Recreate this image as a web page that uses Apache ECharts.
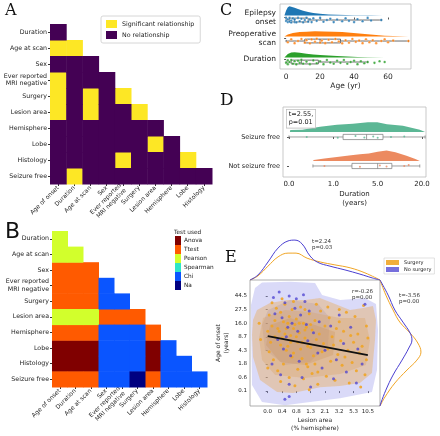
<!DOCTYPE html>
<html><head><meta charset="utf-8">
<script src="https://cdn.jsdelivr.net/npm/echarts@6/dist/echarts.min.js"></script>
<style>html,body{margin:0;padding:0;background:#fff}#c{width:440px;height:436px}</style>
</head><body><div id="c"></div>
<script>
// ---------------- DATA ----------------
// Panel A / B heatmaps
const heatCols = ['Age of onset','Duration','Age at scan','Sex','Ever reported\nMRI negative','Surgery','Lesion area','Hemisphere','Lobe','Histology'];
const heatRows = ['Duration','Age at scan','Sex','Ever reported\nMRI negative','Surgery','Lesion area','Hemisphere','Lobe','Histology','Seizure free'];
const sigNames = ['Significant relationship','No relationship'];
const sigMatrix = [
  [0],[1,1],[0,0,0],[1,0,0,0],[1,0,1,0,1],[1,0,1,0,0,1],
  [0,0,0,0,0,0,0],[0,0,0,0,0,0,1,0],[0,0,0,0,1,0,0,0,1],[0,1,0,0,0,0,0,0,0,0]
];
const testNames = ['Anova','Ttest','Pearson','Spearman','Chi','Na'];
const testCodes = {A:'Anova',T:'Ttest',P:'Pearson',S:'Spearman',C:'Chi',N:'Na'};
const testMatrix = ['P','PP','TTT','TTTC','TTTCC','PPPTTT','TTTCCCT','AAACCCAC','AAACCCACC','TTTCCNTCCC'];

// Panel C raincloud (age in years)
const cGroups = ['Epilepsy\nonset','Preoperative\nscan','Duration'];
const cTicks = [0,20,40,60];
const cBoxes = [[0,2,5,13,56],[0,11,20,32,72],[0,3,9,19,48]];
const cDensOnset = [[-1,0],[0,0.55],[1,0.9],[2,1],[3,0.97],[5,0.85],[7,0.7],[10,0.52],[13,0.38],[16,0.28],[20,0.18],[25,0.11],[30,0.07],[40,0.03],[50,0.015],[57,0]];
const cDensScan = [[-1,0],[1,0.4],[4,0.7],[8,0.85],[12,0.9],[17,1],[22,0.95],[28,0.9],[33,0.85],[38,0.75],[43,0.6],[48,0.45],[53,0.3],[58,0.15],[63,0.07],[72,0]];
const cDensDur = [[-1,0],[1,0.7],[3,0.95],[5,1],[8,0.9],[12,0.75],[16,0.6],[20,0.5],[25,0.38],[30,0.28],[36,0.18],[42,0.1],[48,0.05],[58,0]];
const cPtsOnset = [[0,0.05],[0,-0.1],[1,0.1],[1,-0.04],[2,0.08],[2,-0.1],[3,0.02],[3,0.12],[4,-0.08],[5,0.1],[5,-0.02],[6,0.11],[7,-0.1],[8,0.06],[9,-0.06],[10,0.11],[11,0],[12,-0.11],[13,0.08],[14,-0.04],[15,0.1],[16,-0.08],[18,0.04],[20,-0.1],[22,0.08],[24,0],[26,-0.06],[28,0.1],[30,-0.02],[33,0.06],[35,-0.08],[37,0.04],[40,0.1],[42,-0.04],[45,0.06],[48,-0.1],[50,0.02],[56,0]];
const cPtsScan = [[1,0.06],[3,-0.08],[5,0.1],[7,0],[9,-0.1],[11,0.08],[12,-0.04],[14,0.11],[15,-0.08],[17,0.04],[18,-0.11],[20,0.08],[21,-0.02],[23,0.1],[25,-0.06],[27,0.06],[29,-0.1],[31,0.02],[33,0.11],[35,-0.04],[37,0.08],[39,-0.1],[41,0.04],[43,-0.02],[45,0.1],[47,-0.08],[49,0.06],[51,-0.04],[53,0.1],[56,0],[58,-0.08],[60,0.06],[63,-0.02],[72,0]];
const cPtsDur = [[0,0.04],[1,-0.08],[1,0.1],[2,0],[3,-0.1],[4,0.08],[5,-0.04],[6,0.11],[7,-0.06],[8,0.04],[9,-0.11],[10,0.08],[12,-0.02],[14,0.1],[16,-0.08],[18,0.06],[20,-0.04],[22,0.1],[24,-0.1],[26,0.02],[28,0.08],[30,-0.06],[32,0.04],[34,-0.1],[36,0.08],[38,0],[40,-0.06],[42,0.1],[44,-0.04],[46,0.06],[48,0],[52,0.04],[55,-0.04],[58,0]];

// Panel D (duration, evenly spaced display ticks)
const dTickLabels = ['0.0','1.0','5.0','20.0'];
const dTickPos = [0,1,2,3];
const dGroups = ['Seizure free','Not seizure free'];
const dDensSF = [[0.02,0],[0.03,0.2],[0.3,0.22],[0.7,0.5],[1.08,0.7],[1.44,0.8],[1.78,0.95],[1.99,0.93],[2.21,0.75],[2.57,0.6],[2.95,0.22],[3.07,0]];
const dDensNSF = [[0.54,0],[0.56,0.1],[0.8,0.25],[1.08,0.4],[1.4,0.55],[1.6,0.65],[1.8,0.72],[2.0,0.9],[2.2,1.0],[2.4,0.85],[2.65,0.5],[2.85,0.2],[2.95,0]];
const dBoxes = [[0,1.22,1.75,2.12,3.07],[0.54,1.42,2.0,2.32,2.95]];
const dPtsSF = [[0.4,0],[1.1,0.03],[1.5,-0.03],[1.7,0.02],[1.9,-0.02],[2.0,0.03],[2.3,0],[2.6,-0.02]];
const dPtsNSF = [[0.8,0],[1.6,0.03],[2.05,-0.02],[2.2,0.02],[2.6,0],[2.7,-0.03]];

// Panel E joint plot (evenly spaced display ticks)
const eXTicks = ['0.0','0.4','0.8','1.3','2.1','3.2','5.3','10.5'];
const eYTicks = ['0.1','0.6','1.8','4.3','8.7','16.0','27.5','44.5'];
const eSurgery = [[0.1,5.6],[0.3,4.8],[0.5,5.2],[0.6,6.1],[0.8,4.4],[0.9,5.8],[1.0,3.9],[1.1,5.1],[1.2,6.4],[1.3,4.6],[1.4,3.3],[1.5,5.5],[1.6,4.1],[1.7,6.0],[1.8,2.8],[1.9,4.9],[2.0,5.3],[2.1,3.6],[2.2,4.3],[2.3,6.2],[2.4,2.4],[2.5,5.0],[2.6,3.9],[2.7,4.7],[2.8,1.8],[2.9,5.7],[3.0,3.2],[3.1,4.5],[3.2,2.6],[3.3,5.2],[3.4,3.8],[3.5,1.4],[3.6,4.2],[3.7,5.9],[3.8,2.9],[3.9,3.5],[4.0,4.8],[4.1,1.1],[4.2,3.1],[4.3,5.4],[4.4,2.2],[4.5,4.0],[4.6,3.4],[4.7,0.8],[4.8,4.6],[4.9,2.7],[5.0,5.1],[5.1,3.7],[5.2,1.9],[5.3,4.4],[5.4,2.5],[5.5,5.8],[5.6,3.0],[5.7,0.6],[5.8,4.1],[5.9,2.1],[6.0,3.6],[6.1,5.5],[6.2,1.5],[6.3,4.2],[6.4,2.8],[6.5,0.3],[6.6,3.3],[6.7,6.3],[6.8,1.2],[0.2,3.6],[0.4,2.3],[0.7,1.5],[0.9,0.7],[1.1,2.0],[1.3,3.0],[1.5,1.0],[1.7,2.5],[1.9,0.4],[2.1,1.6],[2.3,3.1],[2.5,0.9],[2.7,2.0],[2.9,0.1],[3.1,1.3],[3.3,2.0],[3.5,0.5],[0.5,4.0],[0.7,4.6],[0.9,3.4],[1.2,4.2],[1.4,5.0],[1.6,3.6],[1.8,4.6],[2.0,4.0],[2.2,5.0],[2.4,3.6],[2.6,4.5],[2.8,3.3],[3.0,4.9],[0.3,6.5],[1.0,6.8],[1.8,6.6],[2.6,6.0],[3.4,6.4],[4.2,6.2],[5.0,6.0],[6.9,4.8],[7.0,3.9],[6.9,2.3],[0.0,4.4],[0.1,2.9],[0.0,1.7],[-0.5,3.8],[-0.6,5.0]];
const eNoSurgery = [[0.8,7.3],[1.5,7.0],[2.0,6.8],[2.5,7.1],[1.2,6.5],[1.9,6.1],[2.6,6.6],[0.4,6.9],[1.0,5.4],[1.4,4.7],[1.7,5.0],[2.1,4.4],[2.3,5.6],[0.7,3.8],[1.1,3.1],[1.6,2.6],[2.2,2.2],[2.8,3.7],[3.2,4.3],[3.6,5.1],[4.0,3.0],[4.4,4.8],[4.8,2.3],[5.3,3.5],[5.8,4.7],[6.3,3.1],[6.8,6.4],[0.3,2.0],[0.9,1.2],[1.5,0.5],[2.4,1.0],[3.0,0.3],[3.8,1.7],[4.6,0.9],[5.5,1.4],[6.2,0.6],[1.2,-0.6],[1.5,-0.4],[2.9,5.9],[3.5,2.8],[0.5,5.7],[1.3,4.0],[2.7,4.9],[5.0,5.6],[6.6,2.0]];
const eFitLine = [[0,4.05],[7,2.65]];
const eKdeBlueOuter = [[-0.4,8.0],[1.56,8.05],[3.31,7.96],[3.8,7.07],[5.06,6.71],[6.8,6.85],[7.57,6.41],[7.71,4.5],[7.64,1.55],[7.29,-0.07],[5.06,-0.52],[2.96,-0.81],[1.21,-1.05],[-0.4,-0.81],[-1.1,0.44],[-1.15,3.76],[-1.17,6.34],[-0.89,7.59]];
const eKdeBlueInner = [[0.02,5.97],[1.56,6.71],[3.52,6.41],[4.36,5.38],[4.22,3.39],[2.96,2.14],[1.21,1.92],[-0.19,3.02],[-0.4,4.86]];
const eKdeOrangeOuter = [[-0.75,5.97],[0.16,6.48],[1.35,6.71],[2.61,6.71],[3.66,6.85],[4.71,6.41],[5.76,5.97],[6.66,6.12],[7.36,6.26],[7.57,5.23],[7.5,3.76],[7.29,1.33],[6.45,0.59],[5.06,0.37],[3.66,0.29],[1.77,-0.15],[0.65,-0.07],[-0.54,0.81],[-1.03,2.51],[-1.1,4.13],[-1.03,5.23]];
const eKdeOrangeMid = [[-0.33,5.38],[1.21,5.97],[2.96,5.82],[5.06,5.38],[6.8,5.38],[7.15,3.76],[6.87,1.92],[5.06,1.25],[2.61,0.96],[0.51,1.18],[-0.4,2.28],[-0.61,3.91]];
const eKdeOrangeInner = [[0.16,4.86],[1.56,5.38],[3.31,4.86],[4.71,4.35],[4.57,2.65],[2.61,1.92],[0.86,2.14],[-0.12,3.39]];
const eTopBlue = [[-1.24,0],[-0.68,0.12],[0.02,0.43],[0.72,0.76],[1.42,0.93],[1.9,0.95],[2.4,0.86],[2.96,0.57],[3.5,0.42],[4.35,0.33],[5.4,0.24],[6.45,0.14],[7.3,0.05],[7.85,0]];
const eTopOrange = [[-1.24,0],[-0.68,0.1],[0.02,0.33],[0.72,0.55],[1.42,0.64],[1.98,0.64],[2.75,0.52],[3.66,0.43],[4.7,0.36],[5.76,0.29],[6.8,0.17],[7.85,0]];
const eRightBlue = [[0,8.18],[0.18,7.07],[0.33,5.97],[0.51,5.08],[0.67,4.27],[0.71,3.76],[0.64,3.17],[0.49,2.28],[0.29,1.18],[0.13,0.07],[0.02,-0.88],[0,-1.1]];
const eRightOrange = [[0,8.18],[0.13,7.07],[0.29,5.97],[0.44,5.08],[0.67,4.27],[0.84,3.54],[0.91,2.87],[0.82,2.28],[0.6,1.55],[0.33,0.59],[0.11,-0.44],[0,-1.1]];

// ---------------- STYLE ----------------
const FONT = 'DejaVu Sans';
const sigColors = ['#fde725','#440154'];
const testColors = {Anova:'#800000',Ttest:'#ff5a00',Pearson:'#d2ff2c',Spearman:'#2ee6c8',Chi:'#0a55ff',Na:'#000080'};
const cColors = ['#1f77b4','#ff7f0e','#2ca02c'];
const dColors = ['#5cb795','#ec8a60'];
const eOrange = '#f0a526', eBlue = '#4a3fd0';

// ---------------- HELPERS ----------------
function heatRender(params, api){
  const c = api.coord([api.value(0), api.value(1)]);
  const s = api.size([1,1]);
  return {type:'rect', shape:{x:c[0]-s[0]/2, y:c[1]-s[1]/2, width:s[0]+0.5, height:s[1]+0.5}, style:{fill:api.visual('color')}};
}
function polySeries(xi, yi, pts, fill, stroke, z){
  return {type:'custom', xAxisIndex:xi, yAxisIndex:yi, data:[pts[0]], silent:true, z:z||2,
    renderItem:(params, api)=>({type:'polygon', shape:{points:pts.map(q=>api.coord(q))},
      style:{fill:fill, stroke:stroke||null, lineWidth:0.6}})};
}
function densityPoly(dens, base, scale){ // upward half violin on inverse y axis
  return dens.map(d=>[d[0], base - d[1]*scale]);
}
function boxSeries(xi, yi, boxes, rowPos, halfH, stroke, fill, lw){
  return {type:'custom', xAxisIndex:xi, yAxisIndex:yi, silent:true, z:4,
    data: boxes.map((b,i)=>b.concat([rowPos[i]])),
    encode:{x:[0,1,2,3,4], y:5},
    renderItem:(params, api)=>{
      const r = api.value(5);
      const pMin = api.coord([api.value(0), r]), pMax = api.coord([api.value(4), r]);
      const a = api.coord([api.value(1), r-halfH]), b = api.coord([api.value(3), r+halfH]);
      const m1 = api.coord([api.value(2), r-halfH]), m2 = api.coord([api.value(2), r+halfH]);
      const y0 = Math.min(a[1],b[1]), h = Math.abs(a[1]-b[1]);
      return {type:'group', children:[
        {type:'line', shape:{x1:pMin[0], y1:pMin[1], x2:a[0], y2:pMin[1]}, style:{stroke, lineWidth:lw}},
        {type:'line', shape:{x1:b[0], y1:pMax[1], x2:pMax[0], y2:pMax[1]}, style:{stroke, lineWidth:lw}},
        {type:'line', shape:{x1:pMin[0], y1:y0+h*0.2, x2:pMin[0], y2:y0+h*0.8}, style:{stroke, lineWidth:lw}},
        {type:'line', shape:{x1:pMax[0], y1:y0+h*0.2, x2:pMax[0], y2:y0+h*0.8}, style:{stroke, lineWidth:lw}},
        {type:'rect', shape:{x:a[0], y:y0, width:b[0]-a[0], height:h}, style:{fill, stroke, lineWidth:lw}},
        {type:'line', shape:{x1:m1[0], y1:m1[1], x2:m2[0], y2:m2[1]}, style:{stroke, lineWidth:lw}}
      ]};
    }};
}
const noAxis = {axisLine:{show:false}, axisTick:{show:false}, axisLabel:{show:false}, splitLine:{show:false}};
function vAxis(gi, min, max, extra){ return Object.assign({type:'value', gridIndex:gi, min, max}, noAxis, extra||{}); }
const lbl = (sz, extra)=>Object.assign({show:true, fontSize:sz, color:'#222', fontFamily:FONT}, extra||{});

// ---------------- SERIES ----------------
const series = [];
// A
sigNames.forEach((nm, k)=>{
  const data = [];
  sigMatrix.forEach((row, r)=>row.forEach((v, c)=>{ if ((v===1) === (k===0)) data.push([c, r]); }));
  series.push({type:'custom', name:nm, xAxisIndex:0, yAxisIndex:0, data, itemStyle:{color:sigColors[k]}, renderItem:heatRender});
});
// B
testNames.forEach(nm=>{
  const data = [];
  testMatrix.forEach((row, r)=>row.split('').forEach((ch, c)=>{ if (testCodes[ch]===nm) data.push([c, r]); }));
  series.push({type:'custom', name:nm, xAxisIndex:1, yAxisIndex:1, data, itemStyle:{color:testColors[nm]}, renderItem:heatRender});
});
// C
const cRows = [0,1,2];
const cDens = [cDensOnset, cDensScan, cDensDur];
const cScale = [0.43, 0.24, 0.24];
const cPts = [cPtsOnset, cPtsScan, cPtsDur];
cDens.forEach((d,i)=>series.push(polySeries(2,2,densityPoly(d, cRows[i]-0.1, cScale[i]), cColors[i], null, 3)));
cPts.forEach((p,i)=>series.push({type:'scatter', xAxisIndex:2, yAxisIndex:2, symbolSize:2.6, z:5, silent:true,
  itemStyle:{color:cColors[i], opacity:0.85, borderColor:'#fff', borderWidth:0.3},
  data:p.map(q=>[q[0], cRows[i]+0.12+q[1]])}));
series.push(boxSeries(2,2,cBoxes,cRows.map(r=>r+0.12),0.09,'#444','rgba(255,255,255,0.15)',0.8));
// D
const dRows = [0,1];
series.push(polySeries(3,3,densityPoly(dDensSF, dRows[0]-0.17, 0.36), dColors[0], null, 3));
series.push(polySeries(3,3,densityPoly(dDensNSF, dRows[1]-0.17, 0.36), dColors[1], null, 3));
series.push(boxSeries(3,3,dBoxes,dRows,0.09,'#777','#fff',0.7));
[dPtsSF, dPtsNSF].forEach((p,i)=>series.push({type:'scatter', xAxisIndex:3, yAxisIndex:3, symbolSize:2, z:6, silent:true,
  itemStyle:{color:dColors[i]}, data:p.map(q=>[q[0], dRows[i]+q[1]])}));
// E blobs
series.push(polySeries(4,4,eKdeBlueOuter,'rgba(150,150,235,0.35)',null,1));
series.push(polySeries(4,4,eKdeBlueInner,'rgba(110,110,200,0.25)',null,1));
series.push(polySeries(4,4,eKdeOrangeOuter,'rgba(232,175,100,0.45)',null,1));
series.push(polySeries(4,4,eKdeOrangeMid,'rgba(220,160,90,0.3)',null,1));
series.push(polySeries(4,4,eKdeOrangeInner,'rgba(200,140,80,0.25)',null,1));
series.push({type:'scatter', name:'Surgery', xAxisIndex:4, yAxisIndex:4, symbolSize:3, z:5, data:eSurgery,
  itemStyle:{color:eOrange, opacity:0.9}});
series.push({type:'scatter', name:'No surgery', xAxisIndex:4, yAxisIndex:4, symbolSize:3, z:5, data:eNoSurgery,
  itemStyle:{color:eBlue, opacity:0.75}});
series.push({type:'line', xAxisIndex:4, yAxisIndex:4, data:eFitLine, symbol:'none', z:7, lineStyle:{color:'#111', width:1.8}});
series.push({type:'line', xAxisIndex:5, yAxisIndex:5, data:eTopOrange, symbol:'none', smooth:0.4, lineStyle:{color:eOrange, width:1}});
series.push({type:'line', xAxisIndex:5, yAxisIndex:5, data:eTopBlue, symbol:'none', smooth:0.4, lineStyle:{color:eBlue, width:1}});
series.push({type:'line', xAxisIndex:6, yAxisIndex:6, data:eRightOrange, symbol:'none', smooth:0.4, lineStyle:{color:eOrange, width:1}});
series.push({type:'line', xAxisIndex:6, yAxisIndex:6, data:eRightBlue, symbol:'none', smooth:0.4, lineStyle:{color:eBlue, width:1}});

// ---------------- OPTION ----------------
const gridBorder = {show:true, borderColor:'#bbb', borderWidth:0.8, backgroundColor:'transparent'};
const option = {
  animation:false,
  textStyle:{fontFamily:FONT},
  grid:[
    {left:50, top:24, width:162, height:160},
    {left:52, top:231, width:155, height:156},
    Object.assign({left:280, top:4, width:131, height:65}, gridBorder),
    Object.assign({left:283, top:107, width:143, height:70}, gridBorder),
    Object.assign({left:250, top:280, width:130, height:126}, {show:true, borderColor:'#999', borderWidth:0.8}),
    {left:250, top:238, width:130, height:42},
    {left:380, top:280, width:45, height:126}
  ],
  xAxis:[
    {type:'category', gridIndex:0, data:heatCols, axisLine:{show:false}, axisTick:{show:true, length:2, alignWithLabel:true, lineStyle:{color:'#333'}},
      axisLabel:lbl(6,{rotate:45, interval:0, margin:3, lineHeight:7})},
    {type:'category', gridIndex:1, data:heatCols, axisLine:{show:false}, axisTick:{show:true, length:2, alignWithLabel:true, lineStyle:{color:'#333'}},
      axisLabel:lbl(6,{rotate:45, interval:0, margin:3, lineHeight:7})},
    vAxis(2, -3.6, 73.5, {axisTick:{show:true, length:2, customValues:cTicks, lineStyle:{color:'#555'}},
      axisLabel:lbl(7.5,{customValues:cTicks, margin:4}), name:'Age (yr)', nameLocation:'middle', nameGap:13, nameTextStyle:{fontSize:7.5, color:'#222'}}),
    vAxis(3, -0.135, 3.09, {axisTick:{show:true, length:2, customValues:dTickPos, lineStyle:{color:'#555'}},
      axisLabel:lbl(7,{customValues:dTickPos, margin:4, formatter:v=>dTickLabels[Math.round(v)]}),
      name:'Duration\n(years)', nameLocation:'middle', nameGap:13, nameTextStyle:{fontSize:7, color:'#222', lineHeight:9, verticalAlign:'top'}}),
    vAxis(4, -1.24, 7.85, {axisTick:{show:true, length:2, customValues:[0,1,2,3,4,5,6,7], lineStyle:{color:'#555'}},
      axisLabel:lbl(5.5,{customValues:[0,1,2,3,4,5,6,7], margin:3, formatter:v=>eXTicks[Math.round(v)]}),
      name:'Lesion area\n(% hemisphere)', nameLocation:'middle', nameGap:10, nameTextStyle:{fontSize:6, color:'#222', lineHeight:8, verticalAlign:'top'}}),
    vAxis(5, -1.24, 7.85),
    vAxis(6, 0, 1)
  ],
  yAxis:[
    {type:'category', gridIndex:0, data:heatRows, inverse:true, axisLine:{show:false}, axisTick:{show:true, length:2, alignWithLabel:true, lineStyle:{color:'#333'}},
      axisLabel:lbl(6.3,{interval:0, margin:3, lineHeight:7.5})},
    {type:'category', gridIndex:1, data:heatRows, inverse:true, axisLine:{show:false}, axisTick:{show:true, length:2, alignWithLabel:true, lineStyle:{color:'#333'}},
      axisLabel:lbl(6.3,{interval:0, margin:3, lineHeight:7.5})},
    vAxis(2, -0.643, 2.452, {inverse:true, axisTick:{show:true, length:2, customValues:cRows, lineStyle:{color:'#555'}},
      axisLabel:lbl(7.5,{customValues:cRows, margin:4, lineHeight:9, formatter:v=>cGroups[Math.round(v)]})}),
    vAxis(3, -1.034, 1.38, {inverse:true, axisTick:{show:true, length:2, customValues:dRows, lineStyle:{color:'#555'}},
      axisLabel:lbl(6.5,{customValues:dRows, margin:3, formatter:v=>dGroups[Math.round(v)]})}),
    vAxis(4, -1.1, 8.18, {axisTick:{show:true, length:2, customValues:[0,1,2,3,4,5,6,7], lineStyle:{color:'#555'}},
      axisLabel:lbl(5.5,{customValues:[0,1,2,3,4,5,6,7], margin:3, formatter:v=>eYTicks[Math.round(v)]}),
      name:'Age of onset\n(years)', nameLocation:'middle', nameGap:16, nameTextStyle:{fontSize:6, color:'#222', lineHeight:8}}),
    vAxis(5, 0, 1),
    vAxis(6, -1.1, 8.18)
  ],
  legend:[
    {data:sigNames, left:101, top:16, orient:'vertical', icon:'rect', itemWidth:11, itemHeight:8, itemGap:3,
      padding:[4,6,4,5], borderColor:'#ccc', borderWidth:0.8, borderRadius:2, selectedMode:false,
      textStyle:{fontSize:6.3, color:'#222', fontFamily:FONT}},
    {data:testNames, left:175, top:236, orient:'vertical', icon:'rect', itemWidth:6, itemHeight:9, itemGap:0,
      padding:0, selectedMode:false, textStyle:{fontSize:5.8, color:'#222', fontFamily:FONT, padding:[0,0,0,-2]}},
    {data:['Surgery','No surgery'], left:384, top:258, orient:'vertical', icon:'rect', itemWidth:13, itemHeight:5, itemGap:2,
      padding:[2,3,2,2], borderColor:'#ccc', borderWidth:0.6, selectedMode:false, textStyle:{fontSize:5, color:'#222', fontFamily:FONT}}
  ],
  graphic:[
    {type:'text', left:5, top:3, style:{text:'A', fontSize:16, fontFamily:'DejaVu Serif', fill:'#111'}},
    {type:'text', left:5, top:221, style:{text:'B', fontSize:22, fontFamily:FONT, fill:'#111'}},
    {type:'text', left:220, top:3, style:{text:'C', fontSize:16, fontFamily:'DejaVu Serif', fill:'#111'}},
    {type:'text', left:220, top:92, style:{text:'D', fontSize:17, fontFamily:'DejaVu Serif', fill:'#111'}},
    {type:'text', left:225, top:250, style:{text:'E', fontSize:16, fontFamily:'DejaVu Serif', fill:'#111'}},
    {type:'text', left:174, top:229, style:{text:'Test used', fontSize:5.8, fontFamily:FONT, fill:'#222'}},
    {type:'text', left:286, top:109, z:10, style:{text:'t=2.55,\np=0.01', fontSize:6.5, lineHeight:8, fontFamily:FONT, fill:'#222',
      backgroundColor:'#fff', borderColor:'#bbb', borderWidth:0.7, padding:[1,2,1,2]}},
    {type:'text', left:312, top:238, style:{text:'t=2.24\np=0.03', fontSize:5.5, lineHeight:6.5, fontFamily:FONT, fill:'#333'}},
    {type:'text', left:352, top:288, z:10, style:{text:'r=-0.26\np=0.00', fontSize:5.5, lineHeight:6.5, fontFamily:FONT, fill:'#333'}},
    {type:'text', left:399, top:292, style:{text:'t=-3.56\np=0.00', fontSize:5.5, lineHeight:6.5, fontFamily:FONT, fill:'#333'}}
  ],
  series
};
const chart = echarts.init(document.getElementById('c'));
chart.setOption(option);
</script>
</body></html>
